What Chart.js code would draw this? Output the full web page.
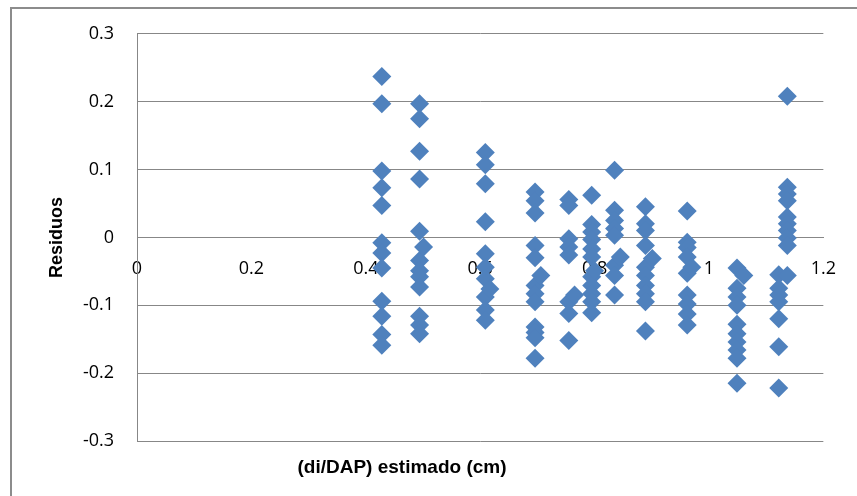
<!DOCTYPE html>
<html>
<head>
<meta charset="utf-8">
<script src="https://cdn.jsdelivr.net/npm/chart.js@4"></script>
<style>
  body { margin: 0; background: #fff; }
  #wrap { position: relative; width: 857px; height: 496px; overflow: hidden; }
  #frame { position: absolute; left: 10px; top: 7px; width: 900px; height: 600px; border: 2px solid #8c8c8c; }
  #chart { position: absolute; left: 0; top: 0; }
  #xtitle { position: absolute; left: 252px; width: 300px; top: 456px; text-align: center;
            font: bold 19px "Liberation Sans", sans-serif; color: #000; }
</style>
</head>
<body>
<div id="wrap">
  <div id="frame"></div>
  <canvas id="chart" width="857" height="496"></canvas>
  <div id="xtitle">(di/DAP) estimado (cm)</div>
</div>
<script>
// (di/DAP) estimado vs residuos
const estimado = [
  0.428, 0.428, 0.428, 0.428, 0.428, 0.428, 0.428, 0.428, 0.428, 0.428, 0.428, 0.428,
  0.494, 0.494, 0.494, 0.494, 0.494, 0.494, 0.494, 0.494, 0.494, 0.494, 0.494, 0.494, 0.501,
  0.609, 0.609, 0.609, 0.609, 0.609, 0.609, 0.609, 0.609, 0.609, 0.609, 0.617,
  0.696, 0.696, 0.696, 0.696, 0.696, 0.696, 0.696, 0.696, 0.696, 0.696, 0.696, 0.696, 0.706,
  0.755, 0.755, 0.755, 0.755, 0.755, 0.755, 0.755, 0.755, 0.765,
  0.795, 0.795, 0.795, 0.795, 0.795, 0.795, 0.795, 0.795, 0.795, 0.795, 0.795, 0.800,
  0.835, 0.835, 0.835, 0.835, 0.835, 0.835, 0.835, 0.835, 0.845,
  0.889, 0.889, 0.889, 0.889, 0.889, 0.889, 0.889, 0.889, 0.889, 0.889, 0.901,
  0.962, 0.962, 0.962, 0.962, 0.962, 0.962, 0.962, 0.962, 0.962, 0.970,
  1.049, 1.049, 1.049, 1.049, 1.049, 1.049, 1.049, 1.049, 1.049, 1.049, 1.061,
  1.122, 1.122, 1.122, 1.122, 1.122, 1.122, 1.122,
  1.137, 1.137, 1.137, 1.137, 1.137, 1.137, 1.137, 1.137, 1.137, 1.137
];
const residuos = [
  0.237, 0.197, 0.098, 0.073, 0.047, -0.008, -0.023, -0.045, -0.094, -0.116, -0.143, -0.159,
  0.197, 0.175, 0.127, 0.086, 0.009, -0.034, -0.049, -0.058, -0.073, -0.116, -0.129, -0.142, -0.014,
  0.125, 0.107, 0.079, 0.023, -0.024, -0.044, -0.061, -0.088, -0.107, -0.122, -0.076,
  0.067, 0.054, 0.036, -0.012, -0.030, -0.071, -0.083, -0.095, -0.132, -0.140, -0.148, -0.178, -0.056,
  0.056, 0.047, -0.002, -0.014, -0.026, -0.095, -0.112, -0.152, -0.085,
  0.062, 0.019, 0.008, -0.003, -0.017, -0.029, -0.058, -0.071, -0.083, -0.095, -0.111, -0.049,
  0.099, 0.040, 0.025, 0.013, 0.003, -0.041, -0.056, -0.085, -0.029,
  0.045, 0.020, 0.010, -0.012, -0.044, -0.056, -0.071, -0.083, -0.095, -0.138, -0.031,
  0.039, -0.007, -0.015, -0.029, -0.053, -0.085, -0.098, -0.113, -0.129, -0.044,
  -0.045, -0.075, -0.088, -0.100, -0.128, -0.142, -0.154, -0.166, -0.178, -0.215, -0.056,
  -0.055, -0.075, -0.085, -0.095, -0.120, -0.161, -0.222,
  0.208, 0.074, 0.064, 0.054, 0.030, 0.020, 0.010, -0.001, -0.012, -0.056
];

const X_MIN = 0, X_MAX = 1.2, X_STEP = 0.2;
const Y_MIN = -0.3, Y_MAX = 0.3, Y_STEP = 0.1;
const Y_TITLE = 'Residuos';

const POINT_COLOR = '#4f81bd';
const GRID_COLOR = '#878787';

function fmt_tick( v ) {
  return String( Math.round( v * 10 ) / 10 );
}

function build_points() {
  return estimado.map( ( x, i ) => ( { x: x, y: residuos[ i ] } ) );
}

document.addEventListener( 'DOMContentLoaded', function () {
  const ctx = document.getElementById( 'chart' ).getContext( '2d' );
  new Chart( ctx, {
    type: 'scatter',
    data: {
      datasets: [ {
        data: build_points(),
        pointStyle: 'rectRot',
        pointRadius: 9.5,
        backgroundColor: POINT_COLOR,
        borderColor: POINT_COLOR,
        borderWidth: 0
      } ]
    },
    options: {
      responsive: false,
      animation: false,
      layout: { autoPadding: false, padding: { left: 0, right: 30, top: 33, bottom: 55 } },
      plugins: { legend: { display: false }, tooltip: { enabled: false } },
      scales: {
        x: {
          type: 'linear',
          position: { y: 0 },
          min: X_MIN,
          max: X_MAX,
          grid: { display: false, drawTicks: false },
          border: { display: true, color: GRID_COLOR, width: 1 },
          ticks: {
            stepSize: X_STEP,
            padding: 21,
            color: '#000',
            font: { family: 'Open Sans', size: 18 },
            callback: fmt_tick,
            maxRotation: 0
          }
        },
        y: {
          min: Y_MIN,
          max: Y_MAX,
          grid: { color: GRID_COLOR, drawTicks: false },
          border: { display: true, color: GRID_COLOR, width: 1 },
          ticks: {
            stepSize: Y_STEP,
            padding: 23,
            color: '#000',
            font: { family: 'Open Sans', size: 18 },
            callback: fmt_tick
          },
          title: {
            display: true,
            text: Y_TITLE,
            color: '#000',
            font: { family: 'Liberation Sans', size: 18, weight: 'bold' },
            padding: { top: 46, bottom: 0 }
          },
          afterFit: function ( scale ) {
            scale.width = 137;
          }
        }
      }
    }
  } );
} );
</script>
</body>
</html>
